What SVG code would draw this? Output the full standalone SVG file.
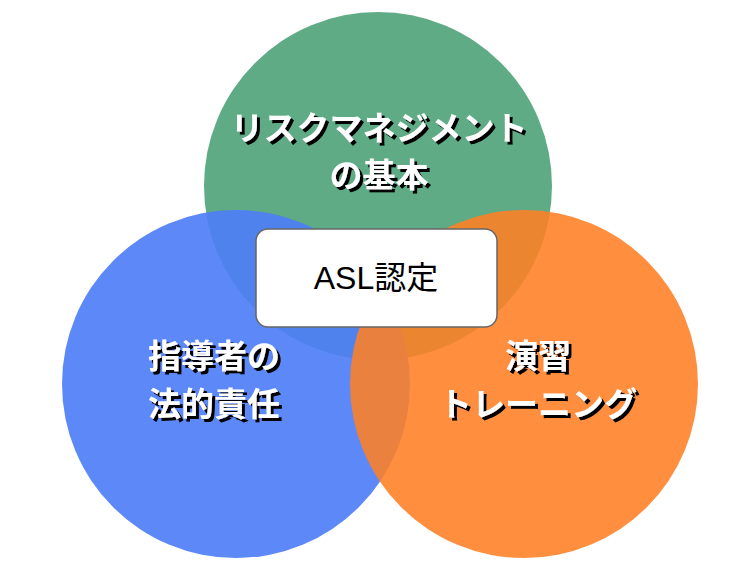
<svg xmlns="http://www.w3.org/2000/svg" width="747" height="561" viewBox="0 0 747 561">
<defs>
<filter id="sh" x="-10%" y="-20%" width="120%" height="140%">
<feDropShadow dx="3" dy="3" stdDeviation="0" flood-color="#000"/>
</filter>
<style>
.lbl{font-family:"Liberation Sans","Noto Sans CJK JP",sans-serif;font-size:33px;font-weight:bold;fill:#fff;text-anchor:middle;filter:url(#sh)}
</style>
</defs>
<rect width="747" height="561" fill="#fff"/>
<g id="green"><circle cx="378" cy="186" r="174" fill="#55a77e" fill-opacity="0.95"/></g>
<g id="blue"><circle cx="236" cy="384" r="174" fill="#4f7ef7" fill-opacity="0.92"/></g>
<g id="orange"><circle cx="524" cy="384" r="174" fill="#ff7f24" fill-opacity="0.88"/></g>
<g id="labels">
<text class="lbl" x="379" y="140">リスクマネジメント</text>
<text class="lbl" x="379" y="187">の基本</text>
<text class="lbl" x="214" y="368">指導者の</text>
<text class="lbl" x="214" y="416">法的責任</text>
<text class="lbl" x="538" y="368">演習</text>
<text class="lbl" x="538" y="416">トレーニング</text>
</g>
<g id="center">
<rect x="256" y="229" width="241" height="98" rx="12" fill="#fff" stroke="#666" stroke-width="1.5"/>
<text x="376" y="289" font-family="Liberation Sans,Noto Sans CJK JP,sans-serif" font-size="32" text-anchor="middle" fill="#000">ASL認定</text>
</g>
<g id="connectors"></g>
</svg>
